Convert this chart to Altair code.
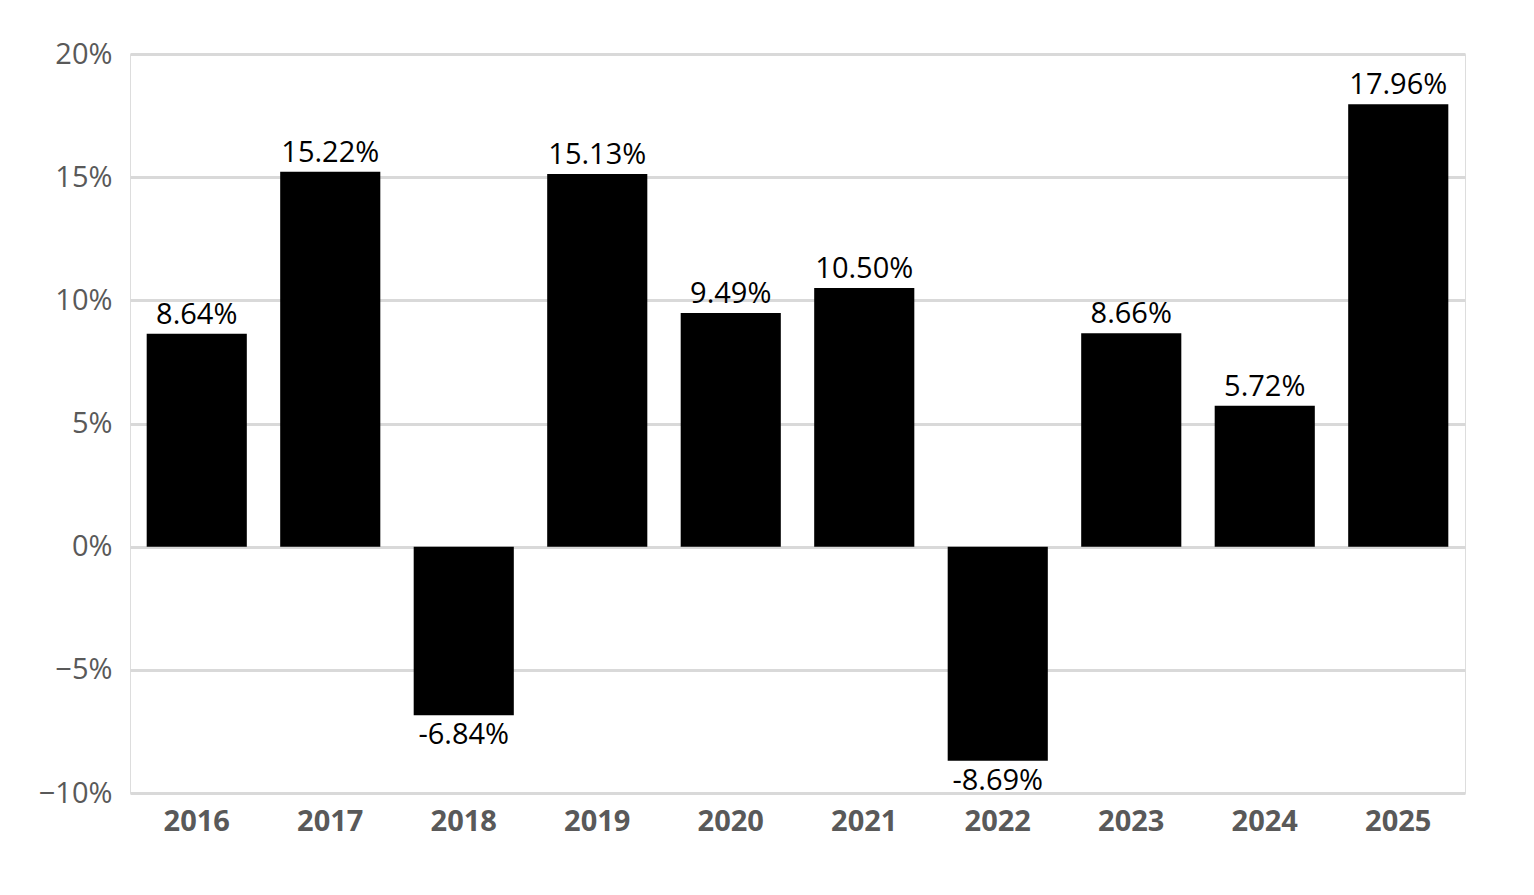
import altair as alt
import pandas as pd

years = ["2016","2017","2018","2019","2020","2021","2022","2023","2024","2025"]
values = [8.64, 15.22, -6.84, 15.13, 9.49, 10.50, -8.69, 8.66, 5.72, 17.96]
labels = ["8.64%","15.22%","-6.84%","15.13%","9.49%","10.50%","-8.69%","8.66%","5.72%","17.96%"]

df = pd.DataFrame({"year": years, "v": [x/100 for x in values], "lab": labels})

x = alt.X("year:N", title=None, sort=years,
          scale=alt.Scale(paddingInner=0.25, paddingOuter=0.125),
          axis=alt.Axis(labelAngle=0, labelFontSize=29, labelFontWeight="bold",
                        labelColor="#595959", domain=False, ticks=False, labelPadding=14,
                        labelFont="Open Sans"))
y = alt.Y("v:Q", title=None,
          scale=alt.Scale(domain=[-0.10, 0.20], nice=False),
          axis=alt.Axis(values=[-0.1,-0.05,0,0.05,0.1,0.15,0.2], format=".0%",
                        labelFontSize=29, labelColor="#595959", domain=False, ticks=False,
                        gridColor="#d9d9d9", gridWidth=3, labelPadding=18,
                        labelFont="Open Sans"))

bars = alt.Chart(df).mark_bar(color="black").encode(x=x, y=y)
pos = alt.Chart(df).transform_filter("datum.v >= 0").mark_text(
    baseline="bottom", dy=-4, fontSize=29, font="Open Sans", color="black").encode(x=x, y=y, text="lab:N")
neg = alt.Chart(df).transform_filter("datum.v < 0").mark_text(
    baseline="top", dy=6, fontSize=29, font="Open Sans", color="black").encode(x=x, y=y, text="lab:N")

chart = (bars + pos + neg).properties(
    width=1335, height=739,
    autosize=alt.AutoSizeParams(type="none"),
    padding={"left": 122, "top": 46, "right": 60, "bottom": 90},
).configure_view(stroke=None).configure(background="white")

chart.save("out.html", embed_options={"renderer": "svg", "actions": False})
